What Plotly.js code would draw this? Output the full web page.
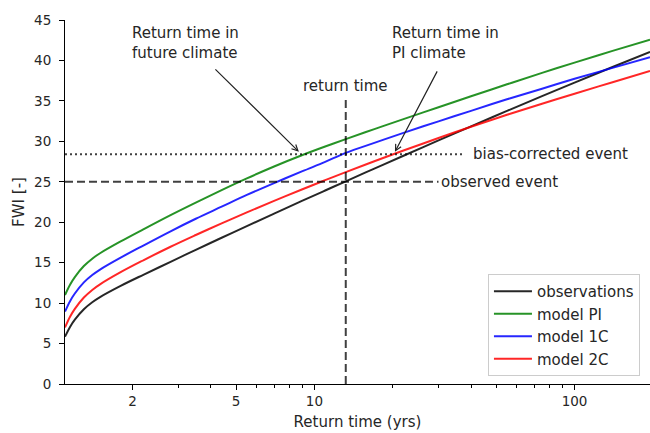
<!DOCTYPE html>
<html>
<head>
<meta charset="utf-8">
<script src="https://cdn.plot.ly/plotly-3.0.1.min.js"></script>
<style>
html,body{margin:0;padding:0;background:#fff;}
#chart{width:650px;height:433px;}
</style>
</head>
<body>
<div id="chart"></div>
<script>
// Return periods (years)
const returnPeriods = [1.1, 1.15, 1.2, 1.3, 1.4, 1.5, 1.8, 2.2, 2.8, 3.5, 4.4, 5.5, 7, 9, 11, 13.2, 17, 22, 30, 40, 55, 75, 100, 140, 195];
// FWI return levels
const observations = [5.85, 7.06, 7.96, 9.25, 10.11, 10.75, 12.13, 13.5, 15.1, 16.58, 18.08, 19.52, 21.07, 22.66, 23.92, 25.06, 26.63, 28.22, 30.11, 31.85, 33.76, 35.59, 37.26, 39.19, 41.06];
const modelPI      = [11.0, 12.28, 13.22, 14.58, 15.49, 16.16, 17.62, 19.12, 20.88, 22.43, 23.97, 25.42, 26.89, 28.31, 29.36, 30.27, 31.51, 32.75, 34.22, 35.57, 37.05, 38.46, 39.73, 41.18, 42.56];
const model1C      = [8.95, 10.24, 11.19, 12.56, 13.47, 14.15, 15.62, 17.12, 18.88, 20.43, 21.92, 23.37, 24.84, 26.31, 27.46, 28.57, 29.81, 31.05, 32.47, 33.77, 35.2, 36.51, 37.73, 39.08, 40.41];
const model2C      = [7.0, 8.32, 9.29, 10.69, 11.63, 12.32, 13.82, 15.29, 16.97, 18.42, 19.86, 21.22, 22.64, 24.08, 25.2, 26.19, 27.53, 28.86, 30.41, 31.8, 33.28, 34.65, 35.89, 37.31, 38.69];

// Event and reference values
const observedEvent = 25.0;
const biasCorrectedEvent = 28.4;
const eventReturnTime = 13.2;
const observedLineX = [1.1, 30];
const biasLineX = [1.1, 37.6];
const returnTimeLineY = [0, 35.2];

const seriesNames = ['observations', 'model PI', 'model 1C', 'model 2C'];
const seriesValues = [observations, modelPI, model1C, model2C];
const seriesColors = ['rgba(0,0,0,0.85)', 'rgba(0,128,0,0.85)', 'rgba(0,0,255,0.85)', 'rgba(255,0,0,0.85)'];

const xTickVals = [2, 5, 10, 100];
const xTickText = ['2', '5', '10', '100'];
const xMinorVals = [3, 4, 6, 7, 8, 9, 20, 30, 40, 50, 60, 70, 80, 90];

const FONT = 'DejaVu Sans, Liberation Sans, sans-serif';
const TXT = '#262626';

const traces = [];
seriesNames.forEach((name, i) => {
  traces.push({
    type: 'scatter', mode: 'lines', name: name,
    x: returnPeriods, y: seriesValues[i],
    line: {color: seriesColors[i], width: 2, shape: 'spline', smoothing: 1}
  });
});
// observed event (dashed)
traces.push({type: 'scatter', mode: 'lines', showlegend: false, hoverinfo: 'skip',
  x: observedLineX, y: [observedEvent, observedEvent],
  line: {color: 'rgba(0,0,0,0.75)', width: 2, dash: '8px,4px'}});
// bias-corrected event (dotted)
traces.push({type: 'scatter', mode: 'lines', showlegend: false, hoverinfo: 'skip',
  x: biasLineX, y: [biasCorrectedEvent, biasCorrectedEvent],
  line: {color: 'rgba(0,0,0,0.75)', width: 2, dash: '2px,3px'}});
// return time (vertical dashed)
traces.push({type: 'scatter', mode: 'lines', showlegend: false, hoverinfo: 'skip',
  x: [eventReturnTime, eventReturnTime], y: returnTimeLineY,
  line: {color: 'rgba(0,0,0,0.75)', width: 2, dash: '8px,4px'}});

const annFont = {family: FONT, size: 15, color: TXT};
const layout = {
  width: 650, height: 433,
  margin: {l: 65, r: 0, t: 20, b: 49},
  paper_bgcolor: '#fff', plot_bgcolor: '#fff',
  font: {family: FONT, size: 13.5, color: TXT},
  showlegend: true,
  legend: {
    x: 0.723, y: 0.022, xanchor: 'left', yanchor: 'bottom',
    bgcolor: 'rgba(255,255,255,0.8)', bordercolor: '#cccccc', borderwidth: 1,
    itemwidth: 38,
    font: {family: FONT, size: 15, color: TXT}
  },
  xaxis: {
    type: 'log',
    range: [Math.log10(1.1), Math.log10(195)],
    tickmode: 'array', tickvals: xTickVals, ticktext: xTickText,
    ticks: 'outside', ticklen: 5, tickwidth: 1, tickcolor: '#000',
    showline: true, linecolor: '#000', linewidth: 1,
    showgrid: false, zeroline: false,
    minor: {tickmode: 'array', tickvals: xMinorVals, ticks: 'outside', ticklen: 3, tickwidth: 1, tickcolor: '#000', showgrid: false},
    tickfont: {family: FONT, size: 13.5, color: TXT},
    title: {text: 'Return time (yrs)', font: {family: FONT, size: 15, color: TXT}, standoff: 8}
  },
  yaxis: {
    range: [0, 45], dtick: 5, tick0: 0,
    ticks: 'outside', ticklen: 5, tickwidth: 1, tickcolor: '#000',
    showline: true, linecolor: '#000', linewidth: 1,
    showgrid: false, zeroline: false,
    ticklabelstandoff: 5,
    tickfont: {family: FONT, size: 13.5, color: TXT},
    title: {text: 'FWI [-]', font: {family: FONT, size: 15, color: TXT}, standoff: 5}
  },
  annotations: [
    {x: Math.log10(1.96), y: 42.1, xref: 'x', yref: 'y', text: 'Return time in<br>future climate',
     showarrow: false, xanchor: 'left', yanchor: 'middle', align: 'left', font: annFont},
    {x: Math.log10(19.6), y: 42.1, xref: 'x', yref: 'y', text: 'Return time in<br>PI climate',
     showarrow: false, xanchor: 'left', yanchor: 'middle', align: 'left', font: annFont},
    {x: Math.log10(8.72), y: 28.7, xref: 'x', yref: 'y', text: '', showarrow: true,
     ax: -85, ay: -84, arrowhead: 5, arrowsize: 1, arrowwidth: 1.2, arrowcolor: '#222'},
    {x: Math.log10(20.4), y: 28.7, xref: 'x', yref: 'y', text: '', showarrow: true,
     ax: 43, ay: -82, arrowhead: 5, arrowsize: 1, arrowwidth: 1.2, arrowcolor: '#222'},
    {x: Math.log10(eventReturnTime), y: 36.8, xref: 'x', yref: 'y', text: 'return time',
     showarrow: false, xanchor: 'center', yanchor: 'middle', font: annFont},
    {x: Math.log10(40.0), y: biasCorrectedEvent, xref: 'x', yref: 'y', text: 'bias-corrected event',
     showarrow: false, xanchor: 'left', yanchor: 'middle', font: annFont},
    {x: Math.log10(30.1), y: observedEvent, xref: 'x', yref: 'y', text: 'observed event',
     showarrow: false, xanchor: 'left', yanchor: 'middle', font: annFont}
  ]
};

Plotly.newPlot('chart', traces, layout, {displayModeBar: false, staticPlot: true});
</script>
</body>
</html>
